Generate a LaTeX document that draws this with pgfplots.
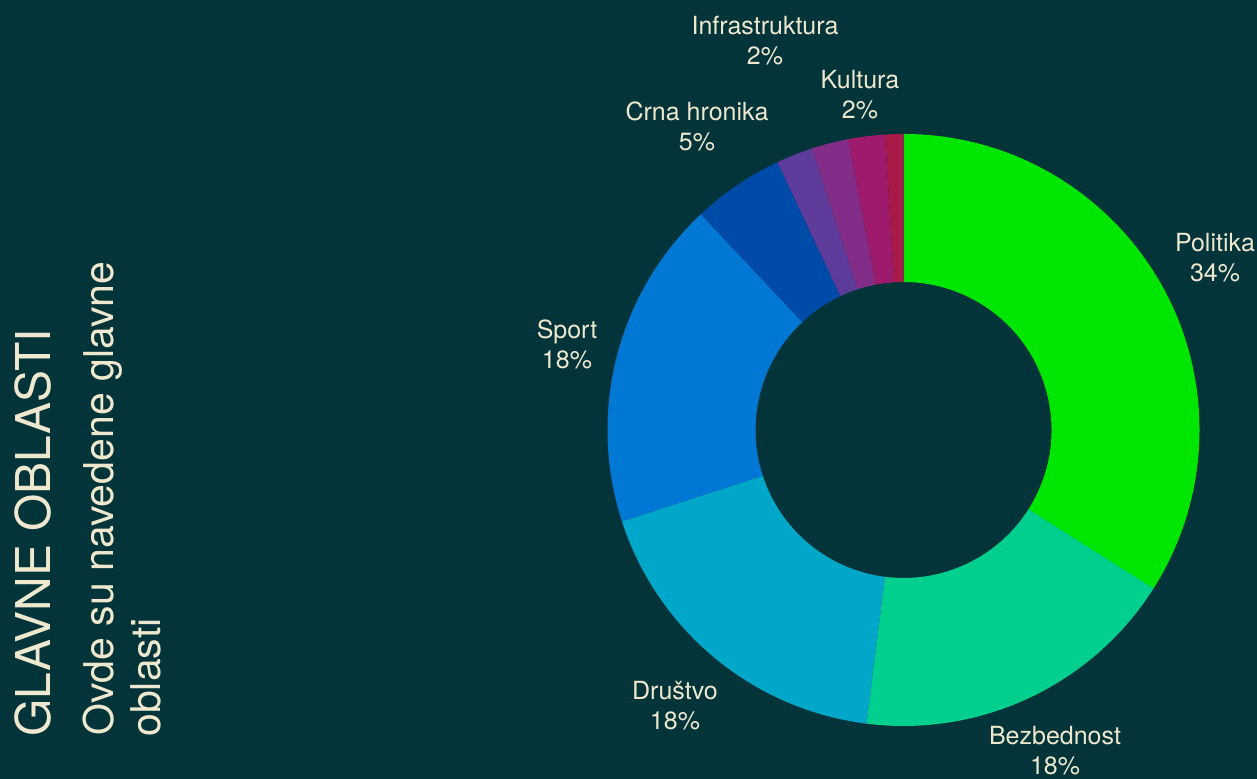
\documentclass[border=0pt]{standalone}
\usepackage{pgfplots}
\pgfplotsset{compat=1.18}
\usepackage{fontspec}
\setmainfont{TeX Gyre Heros}

\definecolor{bg}{HTML}{03343A}
\definecolor{txt}{HTML}{EEE8CF}
\definecolor{cPol}{HTML}{00E600}
\definecolor{cBez}{HTML}{00CF8E}
\definecolor{cDru}{HTML}{00A7C8}
\definecolor{cSpo}{HTML}{0078D4}
\definecolor{cCrn}{HTML}{004AA8}
\definecolor{cInf}{HTML}{5E3C9C}
\definecolor{cKul}{HTML}{832D88}
\definecolor{cMag}{HTML}{9E1A6C}
\definecolor{cRed}{HTML}{A81A48}

% one ring segment: start and end as cumulative percent, colour
% centre (903.5,349), outer radius 296, inner 148 (axis units, 1 unit = 0.5pt)
\newcommand{\slice}[3]{%
  \fill[#3] (axis cs:{903.5+296*cos(90-3.6*#1)},{349+296*sin(90-3.6*#1)})
    arc[start angle={90-3.6*#1}, end angle={90-3.6*#2}, radius=148pt]
    -- (axis cs:{903.5+148*cos(90-3.6*#2)},{349+148*sin(90-3.6*#2)})
    arc[start angle={90-3.6*#2}, end angle={90-3.6*#1}, radius=74pt] -- cycle;}

\tikzset{
  lbl/.style={text=txt, inner sep=0pt, align=center,
    font=\fontsize{12.5}{15}\selectfont},
  side/.style={text=txt, inner sep=0pt, rotate=90, anchor=base west},
}

\begin{document}
\begin{tikzpicture}
\begin{axis}[
  x=0.5pt, y=0.5pt,
  xmin=0, xmax=1257, ymin=0, ymax=779,
  hide axis, clip=false,
]
\fill[bg] (axis cs:0,0) rectangle (axis cs:1257,779);

% values (percent): 34 18 18 18 5 2 2 2 1
\slice{0}{34}{cPol}
\slice{34}{52}{cBez}
\slice{52}{70}{cDru}
\slice{70}{88}{cSpo}
\slice{88}{93}{cCrn}
\slice{93}{95}{cInf}
\slice{95}{97}{cKul}
\slice{97}{99}{cMag}
\slice{99}{100}{cRed}

\node[lbl] at (axis cs:1215,521) {Politika\\34\%};
\node[lbl] at (axis cs:1055,28) {Bezbednost\\18\%};
\node[lbl] at (axis cs:675,73) {Društvo\\18\%};
\node[lbl] at (axis cs:567,435) {Sport\\18\%};
\node[lbl] at (axis cs:697,653) {Crna hronika\\5\%};
\node[lbl] at (axis cs:765,738) {Infrastruktura\\2\%};
\node[lbl] at (axis cs:860,684) {Kultura\\2\%};

\node[side, font=\fontsize{24}{28}\selectfont]
  at (axis cs:50,42) {GLAVNE OBLASTI};
\node[side, font=\fontsize{20.5}{24}\selectfont]
  at (axis cs:113,43) {Ovde su navedene glavne};
\node[side, font=\fontsize{20.5}{24}\selectfont]
  at (axis cs:160,42) {oblasti};
\end{axis}
\end{tikzpicture}
\end{document}
